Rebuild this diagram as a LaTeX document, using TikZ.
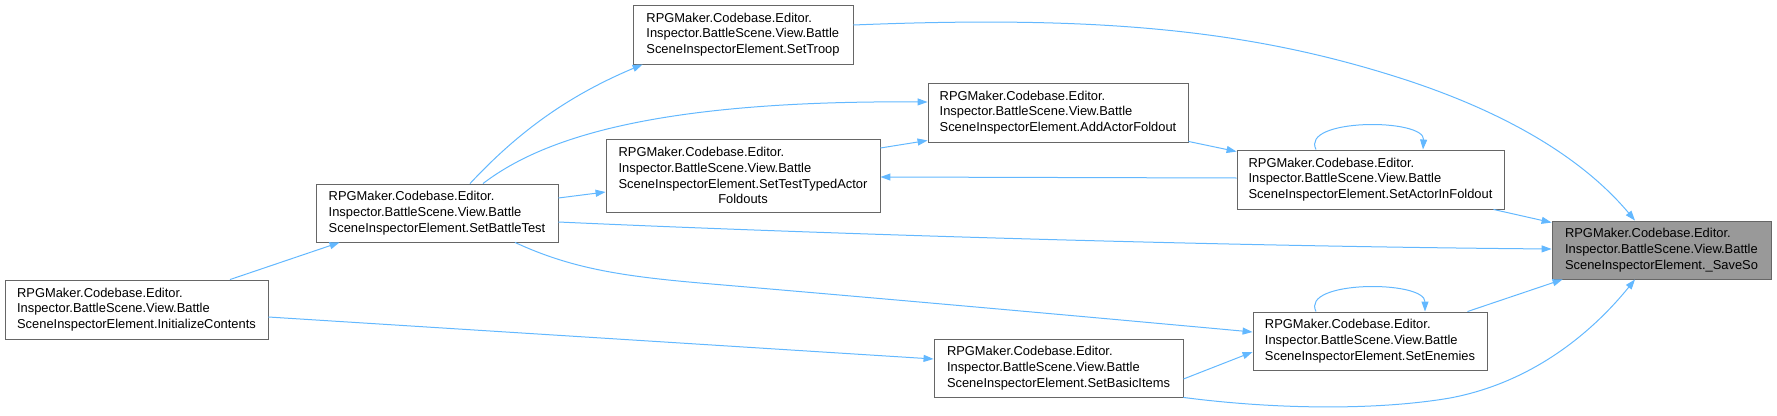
\documentclass[tikz,border=0pt]{standalone}
\usepackage{fontspec}
\setmainfont{Liberation Sans}
\usetikzlibrary{arrows.meta}
\definecolor{edgeblue}{HTML}{63B8FF}
\definecolor{nodeborder}{HTML}{666666}
\definecolor{rootfill}{HTML}{999999}
\begin{document}
\begin{tikzpicture}[x=1pt,y=-1pt,
  fnbox/.style={draw=nodeborder, line width=0.9pt, fill=white, align=left, inner sep=0pt,
    font=\fontsize{12.9}{15.8}\selectfont},
  rootbox/.style={fnbox, fill=rootfill},
  callarrow/.style={draw=edgeblue, line width=1pt, -{Triangle[length=10pt,width=7pt]}}]
\useasboundingbox (0,0) rectangle (1777,415);

\node[fnbox, minimum width=263pt, minimum height=59pt] (init) at (136.5,309.5)
  {RPGMaker.Codebase.Editor.\\Inspector.BattleScene.View.Battle\\SceneInspectorElement.InitializeContents};
\node[fnbox, minimum width=242pt, minimum height=58pt] (sbt) at (437,213)
  {RPGMaker.Codebase.Editor.\\Inspector.BattleScene.View.Battle\\SceneInspectorElement.SetBattleTest};
\node[fnbox, minimum width=220pt, minimum height=59pt] (troop) at (743,34.5)
  {RPGMaker.Codebase.Editor.\\Inspector.BattleScene.View.Battle\\SceneInspectorElement.SetTroop};
\node[fnbox, minimum width=274pt, minimum height=73pt] (stt) at (743,175.5)
  {RPGMaker.Codebase.Editor.\\Inspector.BattleScene.View.Battle\\SceneInspectorElement.SetTestTypedActor\\\hspace*{\fill}Foldouts\hspace*{\fill}};
\node[fnbox, minimum width=260pt, minimum height=59pt] (aaf) at (1058,112.5)
  {RPGMaker.Codebase.Editor.\\Inspector.BattleScene.View.Battle\\SceneInspectorElement.AddActorFoldout};
\node[fnbox, minimum width=249pt, minimum height=58pt] (sbi) at (1058.5,368)
  {RPGMaker.Codebase.Editor.\\Inspector.BattleScene.View.Battle\\SceneInspectorElement.SetBasicItems};
\node[fnbox, minimum width=267pt, minimum height=59pt] (saif) at (1370.5,179.5)
  {RPGMaker.Codebase.Editor.\\Inspector.BattleScene.View.Battle\\SceneInspectorElement.SetActorInFoldout};
\node[fnbox, minimum width=234pt, minimum height=58pt] (sen) at (1370,341)
  {RPGMaker.Codebase.Editor.\\Inspector.BattleScene.View.Battle\\SceneInspectorElement.SetEnemies};
\node[rootbox, minimum width=219pt, minimum height=58pt] (save) at (1661.5,250)
  {RPGMaker.Codebase.Editor.\\Inspector.BattleScene.View.Battle\\SceneInspectorElement.\_SaveSo};

% edges
\draw[callarrow] ([xshift=93.5pt]init.north) -- ([xshift=24pt]sbt.south west);
\draw[callarrow] ([yshift=-7.5pt]init.east) -- ([yshift=9pt]sbi.west);
\draw[callarrow] ([xshift=33pt]sbt.north) .. controls (520,130) and (570,95) .. ([xshift=10pt]troop.south west);
\draw[callarrow] ([xshift=46pt]sbt.north) .. controls (540,140) and (650,100) .. ([yshift=10.5pt]aaf.west);
\draw[callarrow] ([yshift=15pt]sbt.east) -- ([yshift=-16.5pt]stt.west);
\draw[callarrow] ([yshift=-9pt]sbt.east) .. controls (800,233) and (1200,246) .. ([yshift=1pt]save.west);
\draw[callarrow] ([xshift=78pt]sbt.south) .. controls (570,268) and (620,276) .. (700,283)
  .. controls (900,300) and (1100,318) .. ([yshift=9pt]sen.west);
\draw[callarrow] ([yshift=27.5pt]stt.east) -- ([yshift=2pt]aaf.south west);
\draw[callarrow] ([yshift=1.5pt]saif.west) -- ([yshift=-1.5pt]stt.east);
\draw[callarrow] ([yshift=1pt]aaf.south east) -- ([yshift=-2pt]saif.north west);
\draw[callarrow] ([xshift=-54.5pt]saif.north) .. controls (1300,118) and (1425,118) .. ([xshift=52.5pt]saif.north);
\draw[callarrow] ([xshift=-11pt]saif.south east) -- ([yshift=-2pt]save.north west);
\draw[callarrow] ([yshift=9.5pt]troop.east) .. controls (1100,15) and (1250,30) .. (1400,78)
  .. controls (1500,110) and (1580,155) .. ([xshift=-26.5pt]save.north);
\draw[callarrow] ([yshift=-11pt]sbi.east) -- ([yshift=-11pt]sen.west);
\draw[callarrow] (sbi.south east) .. controls (1280,410) and (1380,410) .. (1450,398)
  .. controls (1530,383) and (1590,335) .. ([xshift=-26.5pt]save.south);
\draw[callarrow] ([xshift=-20pt]sen.north east) -- ([xshift=11pt]save.south west);
\draw[callarrow] ([xshift=-54pt]sen.north) .. controls (1300,280) and (1425,280) .. ([xshift=55pt]sen.north);
\end{tikzpicture}
\end{document}
